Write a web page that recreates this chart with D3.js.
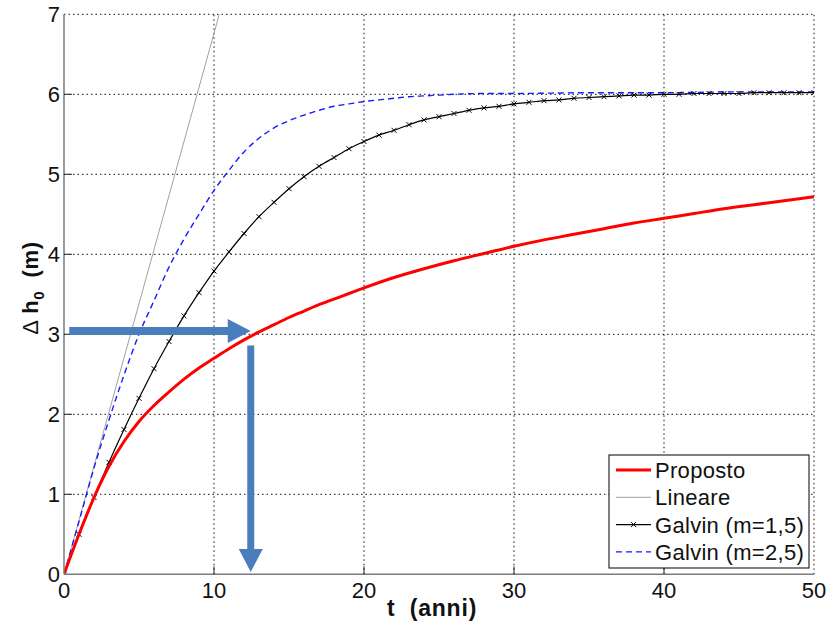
<!DOCTYPE html>
<html>
<head>
<meta charset="utf-8">
<script src="https://cdn.jsdelivr.net/npm/d3@7/dist/d3.min.js"></script>
<style>
  body { margin: 0; background: #fff; }
  text { font-family: "Liberation Sans", Arial, sans-serif; }
</style>
</head>
<body>
<svg id="chart" width="830" height="628"></svg>
<script>
const WIDTH = 830
const HEIGHT = 628

// t (anni) / Δh0 (m)
const proposedT = [0, 1, 2, 3, 4, 5, 6, 7, 8, 9, 10, 11, 12, 13, 14, 15, 16, 17, 18, 19, 20, 22, 24, 26, 28, 30, 32, 34, 36, 38, 40, 42, 44, 46, 48, 50]
const proposedH = [0, 0.50, 0.96, 1.35, 1.66, 1.91, 2.11, 2.28, 2.44, 2.58, 2.70, 2.82, 2.93, 3.03, 3.12, 3.21, 3.29, 3.37, 3.44, 3.51, 3.58, 3.71, 3.82, 3.92, 4.01, 4.10, 4.18, 4.25, 4.32, 4.39, 4.45, 4.51, 4.57, 4.62, 4.67, 4.72]

const linearT = [0, 10.35]
const linearH = [0, 7]

const galvin15T = [0, 1, 2, 3, 4, 5, 6, 7, 8, 9, 10, 11, 12, 13, 14, 15, 16, 17, 18, 19, 20, 21, 22, 23, 24, 25, 26, 27, 28, 29, 30, 31, 32, 33, 34, 35, 36, 37, 38, 39, 40, 41, 42, 43, 44, 45, 46, 47, 48, 49, 50]
const galvin15H = [0, 0.50, 0.96, 1.40, 1.81, 2.20, 2.57, 2.91, 3.23, 3.52, 3.79, 4.03, 4.26, 4.47, 4.65, 4.82, 4.97, 5.10, 5.21, 5.32, 5.41, 5.49, 5.55, 5.62, 5.68, 5.72, 5.76, 5.80, 5.83, 5.85, 5.88, 5.90, 5.92, 5.93, 5.95, 5.96, 5.97, 5.98, 5.99, 5.99, 6.00, 6.00, 6.01, 6.01, 6.01, 6.01, 6.02, 6.02, 6.02, 6.02, 6.02]

const galvin25T = [0, 1, 2, 3, 4, 5, 6, 7, 8, 9, 10, 11, 12, 13, 14, 15, 16, 17, 18, 19, 20, 21, 22, 23, 24, 25, 26, 28, 30, 35, 40, 45, 50]
const galvin25H = [0, 0.66, 1.33, 1.93, 2.49, 3.00, 3.42, 3.84, 4.19, 4.50, 4.80, 5.05, 5.28, 5.45, 5.58, 5.67, 5.74, 5.80, 5.85, 5.88, 5.91, 5.93, 5.95, 5.97, 5.98, 5.99, 6.00, 6.01, 6.01, 6.02, 6.02, 6.03, 6.03]

const xTicks = [0, 10, 20, 30, 40, 50]
const yTicks = [0, 1, 2, 3, 4, 5, 6, 7]

const legendLabels = ['Proposto', 'Lineare', 'Galvin (m=1,5)', 'Galvin (m=2,5)']

// arrows: horizontal at Δh≈3 to the red curve, then down to the t axis
const arrowH = { t0: 0.35, t1: 12.45, h: 3.04 }
const arrowV = { t: 12.45, h0: 2.86, h1: 0.03 }

const svg = d3.select('#chart')

const x = d3.scaleLinear().domain([0, 50]).range([64, 814])
const y = d3.scaleLinear().domain([0, 7]).range([574.3, 14.3])

// grid
const grid = svg.append('g').attr('class', 'grid')
grid.selectAll('line.gx')
  .data(xTicks.filter(d => d > 0))
  .enter().append('line')
  .attr('x1', d => x(d)).attr('x2', d => x(d))
  .attr('y1', y(0)).attr('y2', y(7))
grid.selectAll('line.gy')
  .data(yTicks.filter(d => d > 0))
  .enter().append('line')
  .attr('x1', x(0)).attr('x2', x(50))
  .attr('y1', d => y(d)).attr('y2', d => y(d))
grid.selectAll('line')
  .attr('stroke', '#111')
  .attr('stroke-width', 1)
  .attr('stroke-dasharray', '1.5,3')

// clip
svg.append('clipPath').attr('id', 'plotclip')
  .append('rect')
  .attr('x', x(0)).attr('y', y(7))
  .attr('width', x(50) - x(0)).attr('height', y(0) - y(7))

const line = d3.line().x(d => x(d[0])).y(d => y(d[1]))
const curve = d3.line().x(d => x(d[0])).y(d => y(d[1])).curve(d3.curveMonotoneX)

const plot = svg.append('g').attr('clip-path', 'url(#plotclip)')

plot.append('path')
  .datum(d3.zip(linearT, linearH))
  .attr('d', line)
  .attr('fill', 'none')
  .attr('stroke', '#a0a0a0')
  .attr('stroke-width', 1)

plot.append('path')
  .datum(d3.zip(galvin25T, galvin25H))
  .attr('d', curve)
  .attr('fill', 'none')
  .attr('stroke', '#1a1aff')
  .attr('stroke-width', 1.4)
  .attr('stroke-dasharray', '6,4')

plot.append('path')
  .datum(d3.zip(galvin15T, galvin15H))
  .attr('d', curve)
  .attr('fill', 'none')
  .attr('stroke', '#000')
  .attr('stroke-width', 1.2)

const markerX = (cx, cy, s) => `M${cx - s},${cy - s}L${cx + s},${cy + s}M${cx - s},${cy + s}L${cx + s},${cy - s}`

plot.append('g').selectAll('path')
  .data(d3.zip(galvin15T, galvin15H))
  .enter().append('path')
  .attr('d', d => markerX(x(d[0]), y(d[1]), 2.5))
  .attr('stroke', '#000')
  .attr('stroke-width', 1)

plot.append('path')
  .datum(d3.zip(proposedT, proposedH))
  .attr('d', curve)
  .attr('fill', 'none')
  .attr('stroke', '#ff0000')
  .attr('stroke-width', 3)

// axes (left + bottom only, ticks inside)
svg.append('line')
  .attr('x1', x(0)).attr('x2', x(0)).attr('y1', y(0)).attr('y2', y(7))
  .attr('stroke', '#7a7a7a').attr('stroke-width', 1.5)
svg.append('line')
  .attr('x1', x(0)).attr('x2', x(50)).attr('y1', y(0)).attr('y2', y(0))
  .attr('stroke', '#7a7a7a').attr('stroke-width', 1.5)

svg.append('g').selectAll('line')
  .data(yTicks.filter(d => d > 0 && d < 7))
  .enter().append('line')
  .attr('x1', x(0)).attr('x2', x(0) + 8)
  .attr('y1', d => y(d)).attr('y2', d => y(d))
  .attr('stroke', '#222')
svg.append('g').selectAll('line')
  .data(xTicks.filter(d => d > 0 && d < 50))
  .enter().append('line')
  .attr('x1', d => x(d)).attr('x2', d => x(d))
  .attr('y1', y(0)).attr('y2', y(0) - 8)
  .attr('stroke', '#222')

svg.append('g').selectAll('text')
  .data(yTicks)
  .enter().append('text')
  .attr('x', x(0) - 4)
  .attr('y', d => y(d))
  .attr('dy', '0.36em')
  .attr('text-anchor', 'end')
  .attr('font-size', 22)
  .attr('fill', '#111')
  .text(d => d)

svg.append('g').selectAll('text')
  .data(xTicks)
  .enter().append('text')
  .attr('x', d => x(d))
  .attr('y', y(0) + 24)
  .attr('text-anchor', 'middle')
  .attr('font-size', 22)
  .attr('fill', '#111')
  .text(d => d)

// axis labels
svg.append('text')
  .attr('x', 432)
  .attr('y', 616)
  .attr('text-anchor', 'middle')
  .attr('font-size', 23)
  .attr('font-weight', 'bold')
  .attr('letter-spacing', 0.8)
  .attr('fill', '#111')
  .attr('xml:space', 'preserve')
  .text('t  (anni)')

const ylab = svg.append('text')
  .attr('transform', 'translate(38,288) rotate(-90)')
  .attr('text-anchor', 'middle')
  .attr('font-size', 22)
  .attr('letter-spacing', 0.6)
  .attr('fill', '#111')
ylab.append('tspan').text('\u0394 ')
ylab.append('tspan').attr('font-weight', 'bold').text('h')
ylab.append('tspan').attr('font-weight', 'bold').attr('font-size', 15).attr('dy', 6).text('0')
ylab.append('tspan').attr('font-weight', 'bold').attr('dy', -6).attr('xml:space', 'preserve').text('  (m)')

// arrows
const arrowColor = '#4a7dbb'
const hx0 = x(arrowH.t0), hx1 = x(arrowH.t1), hy = y(arrowH.h)
svg.append('polygon')
  .attr('points', [
    [hx0, hy - 4], [hx1 - 23, hy - 4], [hx1 - 23, hy - 12], [hx1, hy],
    [hx1 - 23, hy + 12], [hx1 - 23, hy + 4], [hx0, hy + 4]
  ].map(p => p.join(',')).join(' '))
  .attr('fill', arrowColor)

const vx = x(arrowV.t), vy0 = y(arrowV.h0), vy1 = y(arrowV.h1)
svg.append('polygon')
  .attr('points', [
    [vx - 3.5, vy0], [vx + 3.5, vy0], [vx + 3.5, vy1 - 23], [vx + 12, vy1 - 23],
    [vx, vy1], [vx - 12, vy1 - 23], [vx - 3.5, vy1 - 23]
  ].map(p => p.join(',')).join(' '))
  .attr('fill', arrowColor)

// legend
const legend = svg.append('g').attr('transform', 'translate(609,455)')
legend.append('rect')
  .attr('width', 200).attr('height', 113)
  .attr('fill', '#fff').attr('stroke', '#000').attr('stroke-width', 1)

const rows = legend.selectAll('g.row')
  .data(legendLabels)
  .enter().append('g')
  .attr('transform', (d, i) => `translate(0,${15 + i * 27.3})`)

rows.append('text')
  .attr('x', 46)
  .attr('y', 0)
  .attr('dy', '0.36em')
  .attr('font-size', 22)
  .attr('letter-spacing', 0.3)
  .attr('fill', '#111')
  .text(d => d)

const sample = (sel, i) => sel.filter((d, j) => j === i)
sample(rows, 0).append('line').attr('x1', 7).attr('x2', 42)
  .attr('stroke', '#ff0000').attr('stroke-width', 3)
sample(rows, 1).append('line').attr('x1', 7).attr('x2', 42)
  .attr('stroke', '#a0a0a0').attr('stroke-width', 1)
sample(rows, 2).append('line').attr('x1', 7).attr('x2', 42)
  .attr('stroke', '#000').attr('stroke-width', 1.2)
sample(rows, 2).append('path').attr('d', markerX(24.5, 0, 2.5))
  .attr('stroke', '#000').attr('stroke-width', 1)
sample(rows, 3).append('line').attr('x1', 7).attr('x2', 42)
  .attr('stroke', '#1a1aff').attr('stroke-width', 1.4)
  .attr('stroke-dasharray', '6,4')
</script>
</body>
</html>
